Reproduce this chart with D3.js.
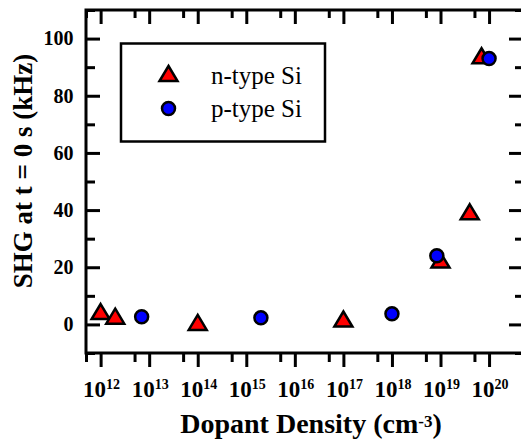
<!DOCTYPE html>
<html>
<head>
<meta charset="utf-8">
<script src="https://cdn.jsdelivr.net/npm/d3@7"></script>
<style>
  body { margin: 0; background: #fff; }
</style>
</head>
<body>
<div id="chart"></div>
<script>
// n-type Si (triangles)
var nDensity = [1e12, 2e12, 1e14, 1e17, 1e19, 4e19, 7e19];
var nSignal  = [4.5, 2.9, 0.7, 1.9, 22.5, 39.4, 94];
// p-type Si (circles)
var pDensity = [7e12, 2e15, 1e18, 8.4e18, 1e20];
var pSignal  = [2.7, 2.3, 3.7, 24, 93];

var xMajor = [1e12, 1e13, 1e14, 1e15, 1e16, 1e17, 1e18, 1e19, 1e20];
var xMinor = [5e11, 5e12, 5e13, 5e14, 5e15, 5e16, 5e17, 5e18, 5e19, 5e20];
var yMajor = [0, 20, 40, 60, 80, 100];
var yMinor = [-10, 10, 30, 50, 70, 90, 110];
var legendLabels = ["n-type Si", "p-type Si"];

var serif = "Liberation Serif";
var w = 521, h = 443;
// plot frame (window.top is read only, so no "top" here)
var pLeft = 86, pRight = 523, pTop = 10, pBottom = 353;

var svg = d3.select('#chart').append('svg')
  .attr('width', w)
  .attr('height', h);

var x = d3.scaleLog().domain([5e11, 5e20]).range([pLeft, pRight]);
var y = d3.scaleLinear().domain([-10, 110]).range([pBottom, pTop]);

function styleAxis(g) {
  g.select('.domain').remove();
  g.selectAll('.tick line').attr('stroke', '#000').attr('stroke-width', 3);
}

// major + minor ticks on all four sides
svg.append('g').attr('transform', 'translate(0,' + pBottom + ')')
  .call(d3.axisBottom(x).tickValues(xMajor).tickSize(14).tickFormat(''))
  .call(styleAxis);
svg.append('g').attr('transform', 'translate(0,' + pBottom + ')')
  .call(d3.axisBottom(x).tickValues(xMinor).tickSize(9).tickFormat(''))
  .call(styleAxis);
svg.append('g').attr('transform', 'translate(0,' + pTop + ')')
  .call(d3.axisTop(x).tickValues(xMajor).tickSize(-14).tickFormat(''))
  .call(styleAxis);
svg.append('g').attr('transform', 'translate(0,' + pTop + ')')
  .call(d3.axisTop(x).tickValues(xMinor).tickSize(-8).tickFormat(''))
  .call(styleAxis);

var yl = svg.append('g').attr('transform', 'translate(' + pLeft + ',0)')
  .call(d3.axisLeft(y).tickValues(yMajor).tickSize(-14).tickPadding(12.5))
  .call(styleAxis);
yl.selectAll('text')
  .attr('fill', '#000')
  .style('font-family', serif)
  .style('font-size', '20px')
  .style('font-weight', 'bold');
svg.append('g').attr('transform', 'translate(' + pLeft + ',0)')
  .call(d3.axisLeft(y).tickValues(yMinor).tickSize(-9).tickFormat(''))
  .call(styleAxis);
svg.append('g').attr('transform', 'translate(' + pRight + ',0)')
  .call(d3.axisRight(y).tickValues(yMajor).tickSize(-14).tickFormat(''))
  .call(styleAxis);
svg.append('g').attr('transform', 'translate(' + pRight + ',0)')
  .call(d3.axisRight(y).tickValues(yMinor).tickSize(-8).tickFormat(''))
  .call(styleAxis);

// frame
svg.append('rect')
  .attr('x', pLeft).attr('y', pTop)
  .attr('width', pRight - pLeft).attr('height', pBottom - pTop)
  .attr('fill', 'none').attr('stroke', '#000').attr('stroke-width', 3);

// x tick labels 10^n
var xl = svg.append('g').selectAll('text')
  .data(xMajor)
  .enter()
  .append('text')
  .attr('x', function(d) { return x(d) + 1; })
  .attr('y', 397)
  .attr('text-anchor', 'middle')
  .style('font-family', serif)
  .style('font-weight', 'bold')
  .style('font-size', '23px');
xl.append('tspan').text('10');
xl.append('tspan')
  .attr('dy', -8)
  .style('font-size', '14px')
  .text(function(d) { return Math.round(Math.log10(d)); });

// axis titles
var xt = svg.append('text')
  .attr('x', 311)
  .attr('y', 433)
  .attr('text-anchor', 'middle')
  .style('font-family', serif)
  .style('font-weight', 'bold')
  .style('font-size', '28px');
xt.append('tspan').text('Dopant Density (cm');
xt.append('tspan').attr('dy', -6).style('font-size', '17px').text('-3');
xt.append('tspan').attr('dy', 6).text(')');

svg.append('text')
  .attr('transform', 'translate(32,171) rotate(-90)')
  .attr('text-anchor', 'middle')
  .style('font-family', serif)
  .style('font-weight', 'bold')
  .style('font-size', '27px')
  .text('SHG at t = 0 s (kHz)');

// markers
function triangle(cx, cy) {
  return 'M' + cx + ',' + (cy - 7.5) + 'L' + (cx + 9) + ',' + (cy + 7.5) +
         'L' + (cx - 9) + ',' + (cy + 7.5) + 'Z';
}

var nData = nDensity.map(function(d, i) { return {x: d, y: nSignal[i]}; });
var pData = pDensity.map(function(d, i) { return {x: d, y: pSignal[i]}; });

svg.append('g').selectAll('path')
  .data(nData)
  .enter()
  .append('path')
  .attr('d', function(d) { return triangle(x(d.x), y(d.y)); })
  .attr('fill', '#ff0000')
  .attr('stroke', '#000')
  .attr('stroke-width', 2.5);

svg.append('g').selectAll('circle')
  .data(pData)
  .enter()
  .append('circle')
  .attr('cx', function(d) { return x(d.x); })
  .attr('cy', function(d) { return y(d.y); })
  .attr('r', 6.5)
  .attr('fill', '#0000ff')
  .attr('stroke', '#000')
  .attr('stroke-width', 2.5);

// legend
var lg = svg.append('g');
lg.append('rect')
  .attr('x', 121).attr('y', 43.5)
  .attr('width', 204).attr('height', 98)
  .attr('fill', '#fff').attr('stroke', '#000').attr('stroke-width', 2.5);
lg.append('path')
  .attr('d', triangle(168.5, 73.5))
  .attr('fill', '#ff0000').attr('stroke', '#000').attr('stroke-width', 2.5);
lg.append('circle')
  .attr('cx', 168.5).attr('cy', 108.5).attr('r', 6.5)
  .attr('fill', '#0000ff').attr('stroke', '#000').attr('stroke-width', 2.5);
lg.selectAll('text.lab')
  .data(legendLabels)
  .enter()
  .append('text')
  .attr('class', 'lab')
  .attr('x', 211)
  .attr('y', function(d, i) { return 84 + i * 33; })
  .style('font-family', serif)
  .style('font-size', '25px')
  .text(function(d) { return d; });
</script>
</body>
</html>
